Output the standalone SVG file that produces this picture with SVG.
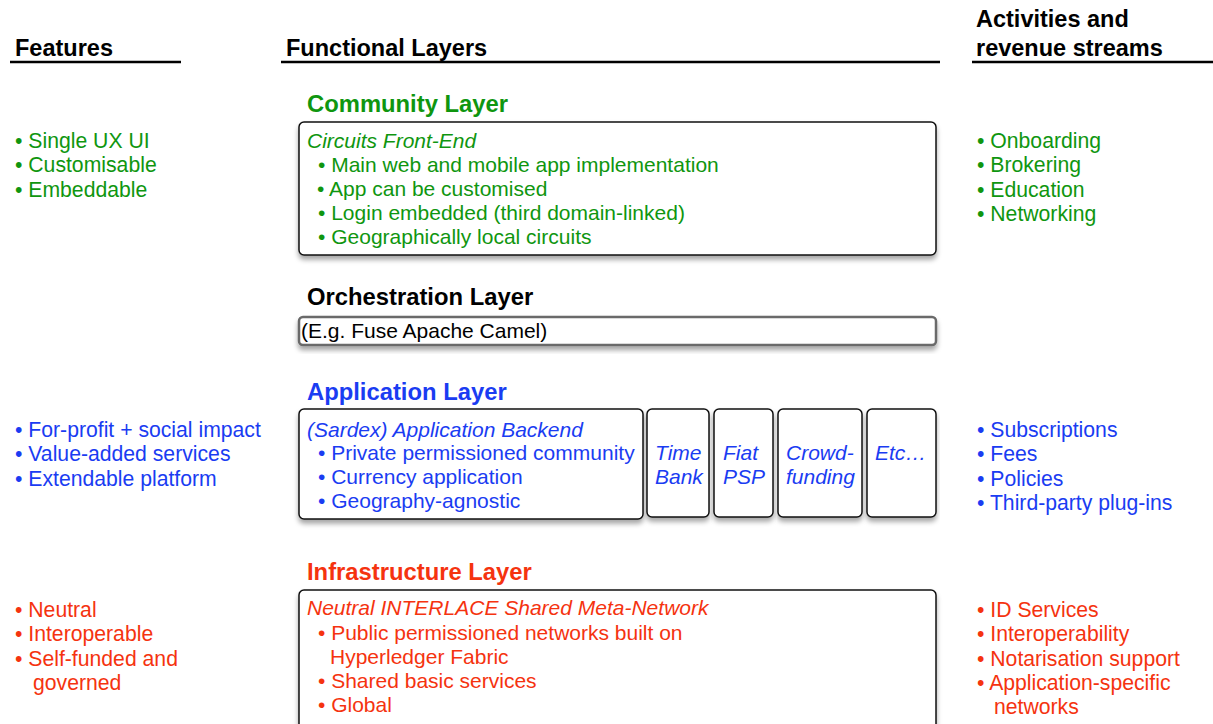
<svg xmlns="http://www.w3.org/2000/svg" width="1213" height="724" viewBox="0 0 1213 724">
<defs>
<filter id="sh" x="-5%" y="-20%" width="110%" height="150%">
<feDropShadow dx="0" dy="4" stdDeviation="2.5" flood-color="#000" flood-opacity="0.35"/>
</filter>
<style>
text{font-family:"Liberation Sans",Arial,sans-serif;}
.h{font-size:23.5px;font-weight:bold;fill:#000;}
.t{font-size:23.8px;font-weight:bold;}
.s{font-size:21.2px;}
.b{font-size:21px;}
.i{font-style:italic;}
.g{fill:#0f960f;}
.bl{fill:#1a3cf2;}
.r{fill:#f5330f;}
.k{fill:#000;}
.box{fill:#fff;stroke:#111;stroke-width:1.5;filter:url(#sh);}
.obox{fill:#fff;stroke:#6a6a6a;stroke-width:2.5;filter:url(#sh);}
.ul{stroke:#000;stroke-width:2.5;}
</style>
</defs>
<rect width="1213" height="724" fill="#fff"/>

<g id="headers">
<text class="h" x="15" y="56">Features</text>
<line class="ul" x1="10" y1="62" x2="181" y2="62"/>
<text class="h" x="286" y="56">Functional Layers</text>
<line class="ul" x1="281" y1="62" x2="940" y2="62"/>
<text class="h" x="976" y="27">Activities and</text>
<text class="h" x="976" y="56">revenue streams</text>
<line class="ul" x1="972" y1="62" x2="1213" y2="62"/>
</g>

<g id="community-layer">
<text class="t g" x="307" y="112">Community Layer</text>
<rect class="box" x="299" y="122" width="637" height="133" rx="5"/>
<text class="b i g" x="307" y="148">Circuits Front-End</text>
<text class="b g" x="318" y="172">• Main web and mobile app implementation</text>
<text class="b g" x="317" y="196">• App can be customised</text>
<text class="b g" x="318" y="220">• Login embedded (third domain-linked)</text>
<text class="b g" x="318" y="244">• Geographically local circuits</text>
</g>

<g id="orchestration-layer">
<text class="t k" x="307" y="305">Orchestration Layer</text>
<rect class="obox" x="299" y="317" width="637" height="28" rx="4"/>
<text class="b k" x="301" y="338">(E.g. Fuse Apache Camel)</text>
</g>

<g id="application-layer">
<text class="t bl" x="307" y="400">Application Layer</text>
<rect class="box" x="299" y="409" width="344" height="110" rx="5"/>
<text class="b i bl" x="307" y="437">(Sardex) Application Backend</text>
<text class="b bl" x="318" y="460">• Private permissioned community</text>
<text class="b bl" x="318" y="484">• Currency application</text>
<text class="b bl" x="318" y="508">• Geography-agnostic</text>
</g>
<g id="time-bank">
<rect class="box" x="647" y="409" width="62" height="108" rx="5"/>
<text class="b i bl" x="655" y="460">Time</text>
<text class="b i bl" x="655" y="484">Bank</text>
</g>
<g id="fiat-psp">
<rect class="box" x="714" y="409" width="59" height="108" rx="5"/>
<text class="b i bl" x="723" y="460">Fiat</text>
<text class="b i bl" x="723" y="484">PSP</text>
</g>
<g id="crowdfunding">
<rect class="box" x="778" y="409" width="84" height="108" rx="5"/>
<text class="b i bl" x="786" y="460">Crowd-</text>
<text class="b i bl" x="786" y="484">funding</text>
</g>
<g id="etc">
<rect class="box" x="867" y="409" width="69" height="108" rx="5"/>
<text class="b i bl" x="875" y="460">Etc…</text>
</g>

<g id="infrastructure-layer">
<text class="t r" x="307" y="580">Infrastructure Layer</text>
<rect class="box" x="299" y="590" width="637" height="145" rx="5"/>
<text class="b i r" x="307" y="615">Neutral INTERLACE Shared Meta-Network</text>
<text class="b r" x="318" y="640">• Public permissioned networks built on</text>
<text class="b r" x="330" y="664">Hyperledger Fabric</text>
<text class="b r" x="318" y="688">• Shared basic services</text>
<text class="b r" x="318" y="712">• Global</text>
</g>

<g id="features-community">
<text class="s g" x="15" y="148">• Single UX UI</text>
<text class="s g" x="15" y="172">• Customisable</text>
<text class="s g" x="15" y="197">• Embeddable</text>
</g>
<g id="features-application">
<text class="s bl" x="15" y="437">• For-profit + social impact</text>
<text class="s bl" x="15" y="461">• Value-added services</text>
<text class="s bl" x="15" y="486">• Extendable platform</text>
</g>
<g id="features-infrastructure">
<text class="s r" x="15" y="617">• Neutral</text>
<text class="s r" x="15" y="641">• Interoperable</text>
<text class="s r" x="15" y="666">• Self-funded and</text>
<text class="s r" x="33" y="690">governed</text>
</g>

<g id="activities-community">
<text class="s g" x="977" y="148">• Onboarding</text>
<text class="s g" x="977" y="172">• Brokering</text>
<text class="s g" x="977" y="197">• Education</text>
<text class="s g" x="977" y="221">• Networking</text>
</g>
<g id="activities-application">
<text class="s bl" x="977" y="437">• Subscriptions</text>
<text class="s bl" x="977" y="461">• Fees</text>
<text class="s bl" x="977" y="486">• Policies</text>
<text class="s bl" x="977" y="510">• Third-party plug-ins</text>
</g>
<g id="activities-infrastructure">
<text class="s r" x="977" y="617">• ID Services</text>
<text class="s r" x="977" y="641">• Interoperability</text>
<text class="s r" x="977" y="666">• Notarisation support</text>
<text class="s r" x="977" y="690">• Application-specific</text>
<text class="s r" x="994" y="714">networks</text>
</g>
<g id="connectors"></g>
</svg>
